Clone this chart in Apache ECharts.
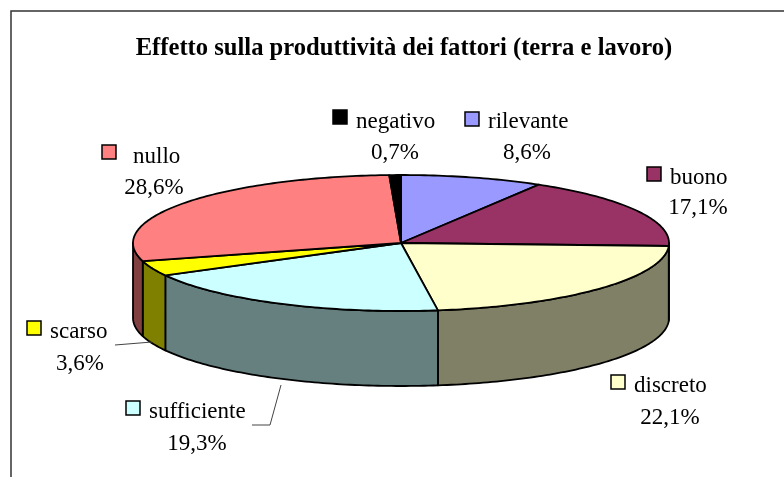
<!DOCTYPE html>
<html>
<head>
<meta charset="utf-8">
<script src="https://cdn.jsdelivr.net/npm/echarts@6/dist/echarts.min.js"></script>
<style>html,body{margin:0;padding:0;background:#fff}#c{width:784px;height:477px}</style>
</head>
<body>
<div id="c"></div>
<script>
var titleText = 'Effetto sulla produttività dei fattori (terra e lavoro)';
var categories = ['rilevante', 'buono', 'discreto', 'sufficiente', 'scarso', 'nullo', 'negativo'];
var values = [8.6, 17.1, 22.1, 19.3, 3.6, 28.6, 0.7];
var topColors = ['#9999FF', '#993366', '#FFFFCC', '#CCFFFF', '#FFFF00', '#FF8080', '#000000'];
var sideColors = ['#4C4C80', '#4C1A33', '#808066', '#668080', '#808000', '#804040', '#000000'];

// Layout of the pie (pixels)
var pie = { cx: 401, cy: 243, rx: 268, ry: 68, depth: 75 };
// Layout of the labels: key square corner, name position, percentage centre
var labelLayout = [
  { key: [465, 112], name: [488, 122], pct: [527, 153] },
  { key: [647, 167], name: [670, 178], pct: [698, 208] },
  { key: [611, 375], name: [634, 386], pct: [670, 418] },
  { key: [126, 401], name: [149, 412], pct: [197, 444] },
  { key: [27, 321],  name: [50, 332],  pct: [80, 364] },
  { key: [102, 145], name: [133, 157], pct: [154, 188] },
  { key: [333, 110], name: [356, 122], pct: [395, 153] }
];
var leaderLines = {
  3: [[252, 425], [270, 425], [281, 385]],
  4: [[115, 345], [152, 342]]
};

var total = values.reduce(function (a, b) { return a + b; }, 0);
function rim(t, dy) {
  return [pie.cx + pie.rx * Math.sin(t), pie.cy - pie.ry * Math.cos(t) + (dy || 0)];
}
function arcPoints(t0, t1, dy) {
  var pts = [], n = Math.max(2, Math.ceil((t1 - t0) / (Math.PI / 180)));
  for (var i = 0; i <= n; i++) pts.push(rim(t0 + (t1 - t0) * i / n, dy));
  return pts;
}

function renderSlice(params, api) {
  var i = params.dataIndex;
  var before = 0;
  for (var k = 0; k < i; k++) before += values[k];
  var t0 = before / total * 2 * Math.PI;
  var t1 = (before + api.value(0)) / total * 2 * Math.PI;
  var children = [];
  var stroke = { stroke: '#000', lineWidth: 1.8, lineJoin: 'round' };

  // visible side wall: front half of the rim only
  var a = Math.max(t0, Math.PI / 2), b = Math.min(t1, 3 * Math.PI / 2);
  if (b > a) {
    var wall = arcPoints(a, b, 0).concat(arcPoints(a, b, pie.depth).reverse());
    children.push({ type: 'polygon', z2: 1, shape: { points: wall },
      style: Object.assign({ fill: sideColors[i] }, stroke) });
  }
  // top face
  var top = [[pie.cx, pie.cy]].concat(arcPoints(t0, t1, 0));
  children.push({ type: 'polygon', z2: 2, shape: { points: top },
    style: Object.assign({ fill: topColors[i] }, stroke) });

  // label
  var L = labelLayout[i];
  children.push({ type: 'rect', z2: 3, shape: { x: L.key[0], y: L.key[1], width: 14, height: 14 },
    style: { fill: topColors[i], stroke: '#000', lineWidth: 1.5 } });
  var font = '23px "Liberation Serif", "Times New Roman", serif';
  children.push({ type: 'text', z2: 3, style: { x: L.name[0], y: L.name[1], text: categories[i],
    font: font, fill: '#000', textAlign: 'left', textVerticalAlign: 'middle' } });
  children.push({ type: 'text', z2: 3, style: { x: L.pct[0], y: L.pct[1],
    text: api.value(0).toFixed(1).replace('.', ',') + '%',
    font: font, fill: '#000', textAlign: 'center', textVerticalAlign: 'middle' } });
  if (leaderLines[i]) {
    children.push({ type: 'polyline', z2: 3, shape: { points: leaderLines[i] },
      style: { fill: null, stroke: '#444', lineWidth: 1 } });
  }
  return { type: 'group', children: children };
}

var chart = echarts.init(document.getElementById('c'), null, { renderer: 'canvas' });
chart.setOption({
  animation: false,
  backgroundColor: '#fff',
  title: {
    text: titleText, left: 399, top: 31, textAlign: 'center',
    textStyle: { fontFamily: '"Liberation Serif", "Times New Roman", serif', fontWeight: 'bold', fontSize: 24.6, color: '#000' }
  },
  graphic: [{
    type: 'polyline', silent: true,
    shape: { points: [[11, 477], [11, 11], [784, 11]] },
    style: { fill: null, stroke: '#333', lineWidth: 1.5 }
  }],
  series: [{
    type: 'custom',
    coordinateSystem: 'none',
    renderItem: renderSlice,
    data: values.map(function (v, i) { return { name: categories[i], value: [v] }; })
  }]
});
</script>
</body>
</html>
